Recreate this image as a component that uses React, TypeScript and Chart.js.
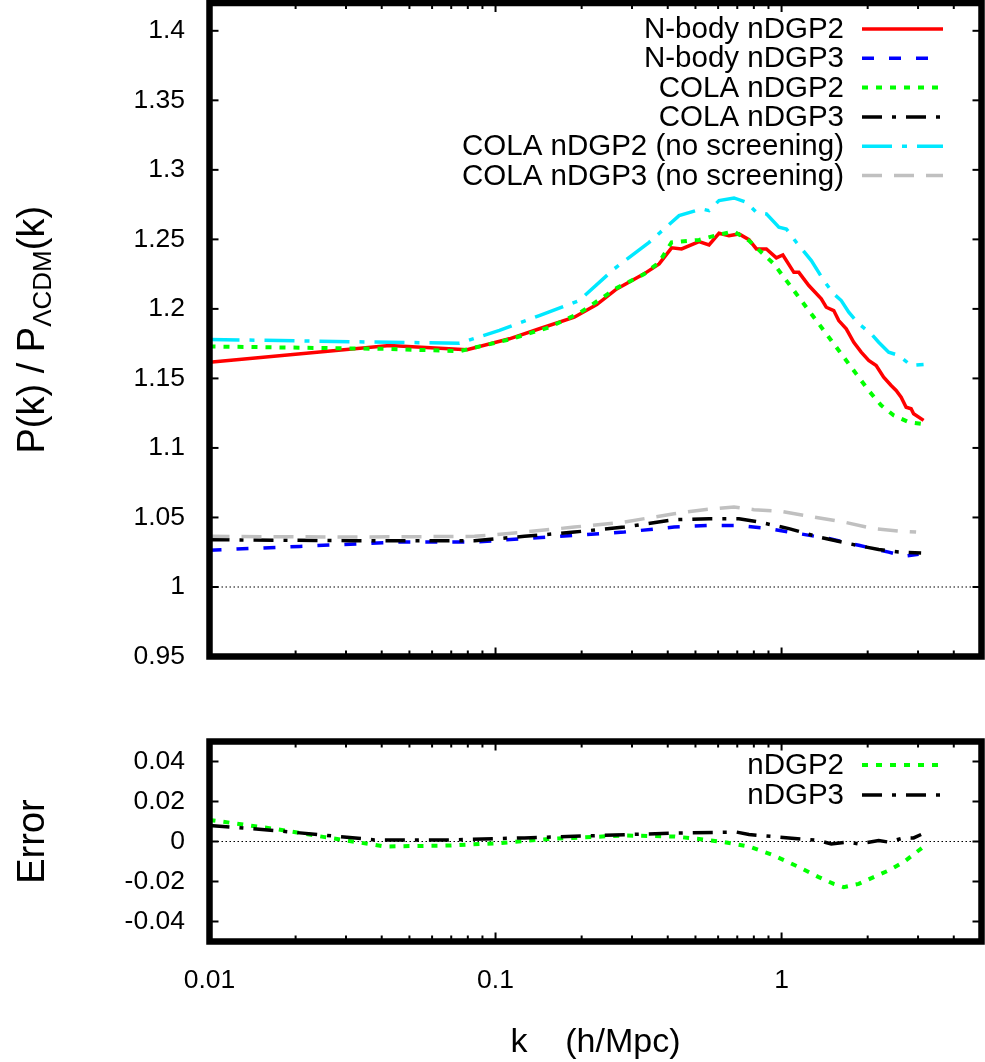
import React, { useEffect, useRef } from 'react';
import { Chart, registerables } from 'chart.js';

Chart.register(...registerables);

// ---------------- data ----------------
const xTickValues = [0.01, 0.02, 0.03, 0.04, 0.05, 0.06, 0.07, 0.08, 0.09, 0.1, 0.2, 0.3, 0.4, 0.5, 0.6, 0.7, 0.8, 0.9, 1, 2, 3, 4, 5];
const xMajorValues = [0.01, 0.1, 1];
const xTickLabels = ['0.01', '0.1', '1'];

const yTopTickValues = [0.95, 1, 1.05, 1.1, 1.15, 1.2, 1.25, 1.3, 1.35, 1.4];
const yTopTickLabels = ['0.95', '1', '1.05', '1.1', '1.15', '1.2', '1.25', '1.3', '1.35', '1.4'];
const yErrTickValues = [-0.04, -0.02, 0, 0.02, 0.04];
const yErrTickLabels = ['-0.04', '-0.02', '0', '0.02', '0.04'];

const topSeriesLabels = [
  'N-body nDGP2',
  'N-body nDGP3',
  'COLA nDGP2',
  'COLA nDGP3',
  'COLA nDGP2 (no screening)',
  'COLA nDGP3 (no screening)',
];
const errSeriesLabels = ['nDGP2', 'nDGP3'];

// [k, P/P_LCDM]
const nbodyNDGP2: [number, number][] = [
  [0.01, 1.1617], [0.0426, 1.1737], [0.0795, 1.1706], [0.1118, 1.1785], [0.1423, 1.1857],
  [0.1885, 1.194], [0.2259, 1.2031], [0.2653, 1.2144], [0.3307, 1.2252], [0.3732, 1.2324],
  [0.4126, 1.2439], [0.4472, 1.2431], [0.5146, 1.2484], [0.5577, 1.246], [0.6043, 1.2544],
  [0.6549, 1.2527], [0.7096, 1.2539], [0.7691, 1.2498], [0.8166, 1.2431], [0.885, 1.2431],
  [0.959, 1.2367], [1.0104, 1.2388], [1.1039, 1.2263], [1.1489, 1.2263], [1.2452, 1.2168],
  [1.3765, 1.2072], [1.4329, 1.2012], [1.5221, 1.1988], [1.5845, 1.1916], [1.6831, 1.1857],
  [1.788, 1.176], [1.8985, 1.1689], [2.0163, 1.1629], [2.1416, 1.1593], [2.2746, 1.1509],
  [2.416, 1.1449], [2.5153, 1.1413], [2.6182, 1.1365], [2.726, 1.1293], [2.8376, 1.1282],
  [2.8951, 1.1246], [3.1369, 1.1198],
];
const nbodyNDGP3: [number, number][] = [
  [0.01, 1.0264], [0.0207, 1.0292], [0.0462, 1.0323], [0.0844, 1.0323], [0.1262, 1.0348],
  [0.1885, 1.0371], [0.2817, 1.0395], [0.421, 1.0431], [0.5577, 1.0443], [0.7096, 1.0443],
  [0.903, 1.042], [1.1489, 1.0384], [1.4622, 1.0348], [1.8609, 1.03], [2.3681, 1.0251],
  [2.6713, 1.0221], [3.0142, 1.0235],
];
const colaNDGP2: [number, number][] = [
  [0.01, 1.173], [0.0426, 1.1712], [0.0748, 1.1696], [0.1118, 1.178], [0.1542, 1.1868],
  [0.1962, 1.1969], [0.2653, 1.215], [0.3307, 1.225], [0.3732, 1.2335], [0.4126, 1.2479],
  [0.5146, 1.2496], [0.6043, 1.2534], [0.6818, 1.2556], [0.7691, 1.2491], [0.85, 1.2407],
  [0.94, 1.2324], [0.9984, 1.2252], [1.1039, 1.2132], [1.2205, 1.2012], [1.349, 1.1893],
  [1.4919, 1.1773], [1.6497, 1.1653], [1.8239, 1.1533], [2.0163, 1.1413], [2.2294, 1.1306],
  [2.465, 1.1234], [2.7812, 1.1186], [3.0752, 1.1174], [3.1369, 1.116],
];
const colaNDGP3: [number, number][] = [
  [0.01, 1.034], [0.0309, 1.0333], [0.0844, 1.0333], [0.1262, 1.0364], [0.1885, 1.0395],
  [0.2817, 1.0431], [0.421, 1.0484], [0.5577, 1.0491], [0.7096, 1.0491], [0.8332, 1.0467],
  [1.0605, 1.042], [1.349, 1.0359], [1.7174, 1.0312], [2.1851, 1.0269], [2.5663, 1.0251],
  [3.0752, 1.0244],
];
const colaNDGP2NoScr: [number, number][] = [
  [0.01, 1.178], [0.0426, 1.176], [0.0748, 1.1753], [0.1032, 1.1845], [0.1423, 1.1952],
  [0.1962, 1.206], [0.26, 1.2288], [0.3443, 1.2479], [0.4383, 1.2671], [0.5251, 1.2719],
  [0.5577, 1.2707], [0.6043, 1.2779], [0.6818, 1.2798], [0.7539, 1.2766], [0.8166, 1.2694],
  [0.885, 1.2683], [0.9784, 1.2587], [1.0392, 1.2575], [1.1262, 1.2479], [1.2706, 1.2347],
  [1.4044, 1.2204], [1.5221, 1.2108], [1.6169, 1.206], [1.7174, 1.1976], [1.8609, 1.1893],
  [2.0572, 1.1821], [2.1851, 1.176], [2.3681, 1.1689], [2.5663, 1.1665], [2.8376, 1.1593],
  [3.1369, 1.16],
];
const colaNDGP3NoScr: [number, number][] = [
  [0.01, 1.0364], [0.0309, 1.0359], [0.0844, 1.0364], [0.1262, 1.0395], [0.1885, 1.0431],
  [0.2817, 1.0467], [0.421, 1.0527], [0.5357, 1.0556], [0.6818, 1.0575], [0.8005, 1.0556],
  [0.9784, 1.0546], [1.2964, 1.0503], [1.6497, 1.0467], [2.0989, 1.042], [2.5663, 1.0402],
  [2.9537, 1.0395],
];

// [k, error]
const errNDGP2: [number, number][] = [
  [0.01, 0.0108], [0.0169, 0.0063], [0.0253, 0.0022], [0.041, -0.0025], [0.0691, -0.002],
  [0.1032, -0.0008], [0.1542, 0.0013], [0.2817, 0.003], [0.421, 0.0025], [0.5146, 0.0013],
  [0.6292, -0.0003], [0.7691, -0.0025], [0.94, -0.007], [1.1489, -0.0128], [1.349, -0.0178],
  [1.5221, -0.0212], [1.6497, -0.0228], [1.8609, -0.0212], [2.0989, -0.0178], [2.3681, -0.0145],
  [2.6713, -0.0103], [3.0142, -0.0045], [3.1117, -0.003],
];
const errNDGP3: [number, number][] = [
  [0.01, 0.008], [0.0169, 0.0055], [0.0378, 0.0008], [0.0691, 0.0008], [0.1262, 0.0018],
  [0.2304, 0.003], [0.421, 0.0042], [0.6956, 0.0047], [0.7691, 0.0035], [1.0605, 0.0018],
  [1.349, 0.0005], [1.4919, -0.0012], [1.7174, -0.0003], [1.8609, -0.0012], [2.1851, 0.0005],
  [2.3681, -0.0003], [2.6713, 0.0018], [2.8951, 0.0018], [3.0752, 0.0035],
];

// ---------------- styling ----------------
const FONT = "'Liberation Sans', Arial, Helvetica, sans-serif";
const W = 985;
const TOP_H = 700;
const BOT_H = 362;

const topStyles = [
  { color: '#ff0000', width: 3.5, dash: [] as number[] },
  { color: '#0000ff', width: 3.5, dash: [12, 15] },
  { color: '#00ff00', width: 4, dash: [6, 8] },
  { color: '#000000', width: 3.5, dash: [20, 10, 4, 10] },
  { color: '#00e8ff', width: 3.5, dash: [30, 10, 5, 10] },
  { color: '#c0c0c0', width: 3.5, dash: [20, 12] },
];
const errStyles = [
  { color: '#00ff00', width: 4, dash: [6, 8] },
  { color: '#000000', width: 3.5, dash: [20, 10, 4, 10] },
];

const toPts = (arr: [number, number][]) => arr.map(([x, y]) => ({ x, y }));

// ---------------- plugins ----------------
const refLinePlugin = {
  id: 'refLine',
  beforeDatasetsDraw(chart: any, _a: any, opts: any) {
    const { ctx, chartArea: a, scales } = chart;
    const py = scales.y.getPixelForValue(opts.value);
    ctx.save();
    ctx.strokeStyle = '#000';
    ctx.lineWidth = 1.2;
    ctx.setLineDash([1.5, 2.5]);
    ctx.beginPath();
    ctx.moveTo(a.left, py);
    ctx.lineTo(a.right, py);
    ctx.stroke();
    ctx.restore();
  },
};

const framePlugin = {
  id: 'gnuFrame',
  afterDraw(chart: any, _a: any, opts: any) {
    const { ctx, chartArea: a, scales } = chart;
    ctx.save();
    ctx.strokeStyle = '#000';
    ctx.setLineDash([]);
    ctx.lineWidth = 2;
    const line = (x0: number, y0: number, x1: number, y1: number) => {
      ctx.beginPath();
      ctx.moveTo(x0, y0);
      ctx.lineTo(x1, y1);
      ctx.stroke();
    };
    for (const v of opts.yTicks as number[]) {
      const py = scales.y.getPixelForValue(v);
      line(a.left, py, a.left + 9, py);
      line(a.right, py, a.right - 9, py);
    }
    for (const v of xTickValues) {
      const px = scales.x.getPixelForValue(v);
      const len = xMajorValues.includes(v) ? 9 : 6;
      line(px, a.bottom, px, a.bottom - len);
      line(px, a.top, px, a.top + len);
    }
    ctx.lineWidth = 6.5;
    ctx.strokeRect(a.left, a.top, a.right - a.left, a.bottom - a.top);
    ctx.restore();
  },
};

const legendPlugin = {
  id: 'gnuLegend',
  afterDraw(chart: any, _a: any, opts: any) {
    const { ctx } = chart;
    ctx.save();
    ctx.font = `${opts.size}px ${FONT}`;
    ctx.textAlign = 'right';
    ctx.textBaseline = 'middle';
    ctx.fillStyle = '#000';
    chart.data.datasets.forEach((ds: any, i: number) => {
      const y = opts.y0 + i * opts.dy;
      ctx.fillText(ds.label, opts.textRight, y + 1);
      ctx.strokeStyle = ds.borderColor;
      ctx.lineWidth = ds.borderWidth;
      ctx.setLineDash(ds.borderDash || []);
      ctx.beginPath();
      ctx.moveTo(opts.s0, y);
      ctx.lineTo(opts.s1, y);
      ctx.stroke();
    });
    ctx.restore();
  },
};

const titlePlugin = {
  id: 'gnuTitles',
  afterDraw(chart: any, _a: any, opts: any) {
    const { ctx, chartArea: a } = chart;
    for (const t of opts.items || []) {
      ctx.save();
      const cx = t.x === 'center' ? (a.left + a.right) / 2 : t.x;
      const cy = t.y === 'center' ? (a.top + a.bottom) / 2 : t.y;
      ctx.translate(cx, cy);
      if (t.rotate) ctx.rotate(-Math.PI / 2);
      let total = 0;
      for (const s of t.segs) {
        ctx.font = `${s.size}px ${FONT}`;
        total += ctx.measureText(s.text).width;
      }
      let u = -total / 2;
      ctx.fillStyle = '#000';
      ctx.textAlign = 'left';
      ctx.textBaseline = 'alphabetic';
      for (const s of t.segs) {
        ctx.font = `${s.size}px ${FONT}`;
        ctx.fillText(s.text, u, s.dy || 0);
        u += ctx.measureText(s.text).width;
      }
      ctx.restore();
    }
  },
};

function yScale(min: number, max: number, values: number[], labels: string[]) {
  return {
    type: 'linear',
    min,
    max,
    bounds: 'data',
    afterBuildTicks: (s: any) => {
      s.ticks = values.map((v) => ({ value: v }));
    },
    afterFit: (s: any) => {
      s.width = 209.5;
      s.paddingTop = 0;
      s.paddingBottom = 0;
    },
    ticks: {
      autoSkip: false,
      padding: 24.5,
      color: '#000',
      font: { family: FONT, size: 26.5 },
      callback: (_v: any, i: number) => labels[i],
    },
    grid: { display: false, drawTicks: false },
    border: { display: false },
  };
}

function xScale(show: boolean) {
  return {
    type: 'logarithmic',
    min: 0.01,
    max: 5,
    display: show,
    afterBuildTicks: (s: any) => {
      s.ticks = xTickValues.map((v) => ({ value: v }));
    },
    afterFit: (s: any) => {
      if (show) s.height = BOT_H - 241.5;
      s.paddingLeft = 0;
      s.paddingRight = 0;
    },
    ticks: {
      autoSkip: false,
      maxRotation: 0,
      minRotation: 0,
      padding: 23,
      color: '#000',
      font: { family: FONT, size: 26.5 },
      callback: (v: any) => {
        const idx = xMajorValues.indexOf(Number(v));
        return idx >= 0 ? xTickLabels[idx] : '';
      },
    },
    grid: { display: false, drawTicks: false },
    border: { display: false },
  };
}

export default function App() {
  const topRef = useRef<HTMLCanvasElement | null>(null);
  const botRef = useRef<HTMLCanvasElement | null>(null);

  useEffect(() => {
    const topSeries = [nbodyNDGP2, nbodyNDGP3, colaNDGP2, colaNDGP3, colaNDGP2NoScr, colaNDGP3NoScr];
    const errSeries = [errNDGP2, errNDGP3];

    const mkDs = (arr: [number, number][], label: string, st: any, i: number) => ({
      label,
      data: toPts(arr),
      borderColor: st.color,
      backgroundColor: st.color,
      borderWidth: st.width,
      borderDash: st.dash,
      pointRadius: 0,
      tension: 0,
      fill: false,
      order: -i,
    });

    const top = new Chart(topRef.current as HTMLCanvasElement, {
      type: 'line',
      data: {
        datasets: topSeries.map((s, i) => mkDs(s, topSeriesLabels[i], topStyles[i], i)),
      },
      options: {
        animation: false,
        responsive: false,
        devicePixelRatio: 1,
        layout: { padding: { left: 0, top: 3, right: 3.5, bottom: 43.5 } },
        scales: {
          x: xScale(false) as any,
          y: yScale(0.95, 1.42, yTopTickValues, yTopTickLabels) as any,
        },
        plugins: {
          legend: { display: false },
          tooltip: { enabled: false },
          refLine: { value: 1 },
          gnuFrame: { yTicks: yTopTickValues },
          gnuLegend: { size: 29.5, textRight: 844, s0: 862, s1: 943, y0: 29, dy: 29.3 },
          gnuTitles: {
            items: [
              {
                x: 44,
                y: 'center',
                rotate: true,
                segs: [
                  { text: 'P(k) / P', size: 38 },
                  { text: 'ΛCDM', size: 26, dy: 7 },
                  { text: '(k)', size: 38 },
                ],
              },
            ],
          },
        } as any,
      },
      plugins: [refLinePlugin, framePlugin, legendPlugin, titlePlugin],
    });

    const bot = new Chart(botRef.current as HTMLCanvasElement, {
      type: 'line',
      data: {
        datasets: errSeries.map((s, i) => mkDs(s, errSeriesLabels[i], errStyles[i], i)),
      },
      options: {
        animation: false,
        responsive: false,
        devicePixelRatio: 1,
        layout: { padding: { left: 0, top: 41.5, right: 3.5, bottom: 0 } },
        scales: {
          x: xScale(true) as any,
          y: yScale(-0.05, 0.05, yErrTickValues, yErrTickLabels) as any,
        },
        plugins: {
          legend: { display: false },
          tooltip: { enabled: false },
          refLine: { value: 0 },
          gnuFrame: { yTicks: yErrTickValues },
          gnuLegend: { size: 29.5, textRight: 844, s0: 862, s1: 943, y0: 65, dy: 30 },
          gnuTitles: {
            items: [
              { x: 44, y: 'center', rotate: true, segs: [{ text: 'Error', size: 38 }] },
              { x: 'center', y: 352, rotate: false, segs: [{ text: 'k    (h/Mpc)', size: 34 }] },
            ],
          },
        } as any,
      },
      plugins: [refLinePlugin, framePlugin, legendPlugin, titlePlugin],
    });

    return () => {
      top.destroy();
      bot.destroy();
    };
  }, []);

  return (
    <div style={{ position: 'absolute', left: 0, top: 0, width: W, height: TOP_H + BOT_H, background: '#fff' }}>
      <canvas
        ref={topRef}
        width={W}
        height={TOP_H}
        style={{ position: 'absolute', left: 0, top: 0, width: W, height: TOP_H }}
      />
      <canvas
        ref={botRef}
        width={W}
        height={BOT_H}
        style={{ position: 'absolute', left: 0, top: TOP_H, width: W, height: BOT_H }}
      />
    </div>
  );
}
